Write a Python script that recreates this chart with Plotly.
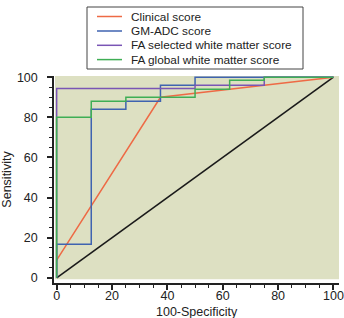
import plotly.graph_objects as go

# ---- data ----
series_names = ["Clinical score", "GM-ADC score", "FA selected white matter score", "FA global white matter score"]
series_colors = ["#ee6a45", "#3f63b0", "#7a55b5", "#3fae55"]

clinical_x = [0, 37.5, 100]
clinical_y = [8.8, 90, 100]

gmadc_x = [0, 0, 12.5, 12.5, 25, 25, 37.5, 37.5, 50, 50, 100]
gmadc_y = [0, 16.7, 16.7, 84, 84, 88, 88, 96, 96, 100, 100]

fasel_x = [0, 0, 50, 50, 75, 75, 100]
fasel_y = [0, 94.4, 94.4, 96, 96, 100, 100]

faglob_x = [0, 0, 12.5, 12.5, 25, 25, 50, 50, 62.5, 62.5, 75, 75, 100]
faglob_y = [0, 80, 80, 88, 88, 90, 90, 94, 94, 98.5, 98.5, 100, 100]

ref_x = [0, 100]
ref_y = [0, 100]

x_title = "100-Specificity"
y_title = "Sensitivity"

# ---- figure ----
W, H = 344, 318
ML, MR, MT, MB = 54, 5, 76, 35
PW, PH = W - ML - MR, H - MT - MB

def px(xp):
    return (xp - ML) / PW

def py(yp):
    return (H - MB - yp) / PH

FONT = "Liberation Sans, Arial, sans-serif"

fig = go.Figure()
fig.add_trace(go.Scatter(x=ref_x, y=ref_y, mode="lines",
                         line=dict(color="#1a1a1a", width=1.6), showlegend=False, hoverinfo="skip"))
all_series = [(clinical_x, clinical_y), (gmadc_x, gmadc_y), (fasel_x, fasel_y), (faglob_x, faglob_y)]
for (xs, ys), name, col in zip(all_series, series_names, series_colors):
    fig.add_trace(go.Scatter(x=xs, y=ys, mode="lines", name=name,
                             line=dict(color=col, width=1.5), showlegend=False))

shapes = [
    dict(type="rect", xref="paper", yref="y", x0=px(55), x1=1, y0=-0.7, y1=100.6,
         fillcolor="#dde0c2", line=dict(width=0), layer="below"),
    dict(type="rect", xref="paper", yref="paper", x0=px(87), x1=px(303), y0=py(69), y1=py(7),
         fillcolor="white", line=dict(color="#444444", width=1)),
]
annotations = [
    dict(text=x_title, xref="paper", yref="paper", x=px(197), y=py(311.5),
         xanchor="center", yanchor="middle", showarrow=False,
         font=dict(family=FONT, size=12.5, color="#222222")),
]
row_y = [16.5, 31, 45.3, 59.6]
for name, col, ry in zip(series_names, series_colors, row_y):
    shapes.append(dict(type="line", xref="paper", yref="paper", x0=px(97), x1=px(122),
                       y0=py(ry), y1=py(ry), line=dict(color=col, width=1.5)))
    annotations.append(dict(text=name, xref="paper", yref="paper", x=px(129), y=py(ry),
                            xanchor="left", yanchor="middle", showarrow=False,
                            font=dict(family=FONT, size=11.8, color="#222222")))

axis_common = dict(
    showline=True, linecolor="#222222", linewidth=1.5,
    ticks="outside", ticklen=5, tickwidth=1.5, tickcolor="#222222",
    showgrid=False, zeroline=False, automargin=False,
    tickmode="linear", tick0=0, dtick=20,
    tickfont=dict(family=FONT, size=12.5, color="#222222"),
    minor=dict(dtick=5, ticks="outside", ticklen=3, tickwidth=1.2, tickcolor="#222222", showgrid=False),
)

fig.update_layout(
    width=W, height=H,
    margin=dict(l=ML, r=MR, t=MT, b=MB),
    paper_bgcolor="white", plot_bgcolor="white",
    shapes=shapes, annotations=annotations,
    showlegend=False,
    xaxis=dict(range=[-0.96, 102.0], ticklabelstandoff=-5, ticklabeloverflow="allow",
               **axis_common),
    yaxis=dict(range=[-2.6, 100.6], ticklabelstandoff=7,
               title=dict(text=y_title, font=dict(family=FONT, size=12.5, color="#222222"), standoff=8),
               **axis_common),
)

fig.write_html("out.html")
